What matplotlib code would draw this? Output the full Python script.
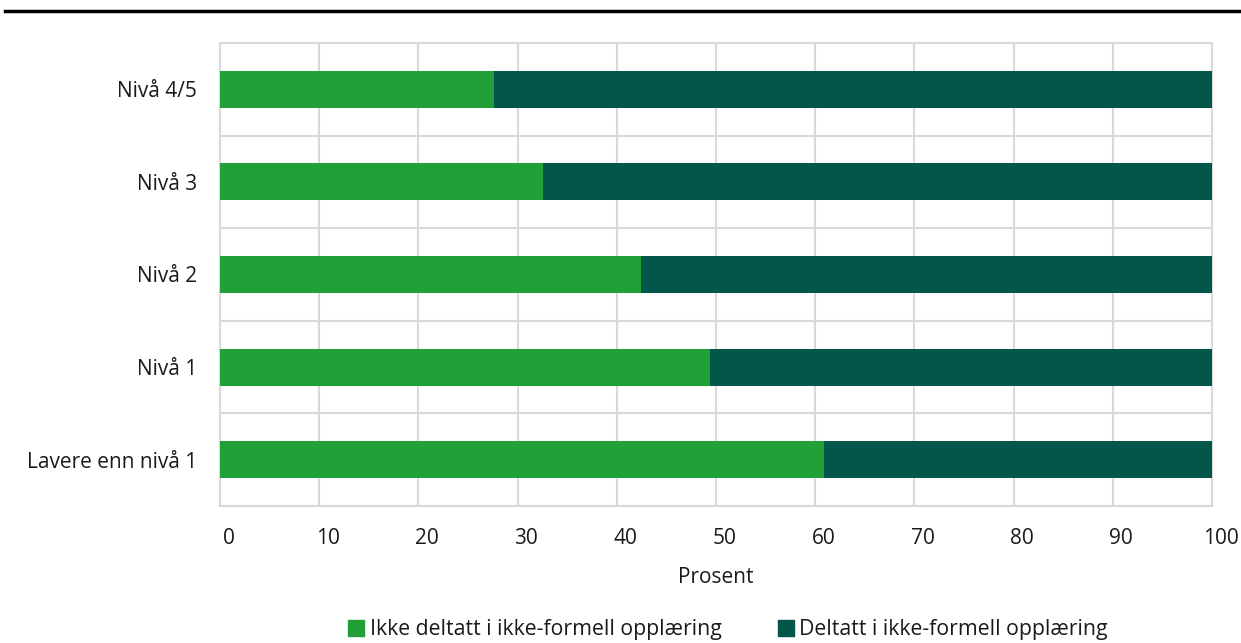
import matplotlib.pyplot as plt
import matplotlib.transforms as mtransforms
from matplotlib.patches import Patch
from matplotlib.lines import Line2D

plt.rcParams['font.family'] = ['Open Sans', 'DejaVu Sans']

categories = ['Lavere enn nivå 1', 'Nivå 1', 'Nivå 2', 'Nivå 3', 'Nivå 4/5']
ikke_deltatt = [60.9, 49.4, 42.4, 32.6, 27.6]
deltatt = [100 - v for v in ikke_deltatt]
series_labels = ['Ikke deltatt i ikke-formell opplæring', 'Deltatt i ikke-formell opplæring']
colors = ['#21a038', '#02564a']

fig = plt.figure(figsize=(12.41, 6.43), dpi=100)
ax = fig.add_axes([220 / 1241, 1 - 506 / 643, 992 / 1241, 463 / 643])

y = range(len(categories))
ax.barh(y, ikke_deltatt, height=0.4, color=colors[0], zorder=3)
ax.barh(y, deltatt, left=ikke_deltatt, height=0.4, color=colors[1], zorder=3)

ax.set_xlim(0, 100)
ax.set_ylim(-0.5, len(categories) - 0.5)
ax.set_xticks(range(0, 101, 10))
ax.set_yticks(list(y))
ax.set_yticklabels(categories)
ax.set_yticks([i - 0.5 for i in range(len(categories) + 1)], minor=True)
ax.tick_params(axis='both', which='both', length=0, labelsize=15, colors='#1a1a1a')
ax.tick_params(axis='x', pad=16)
ax.tick_params(axis='y', pad=16.5)
ax.grid(axis='x', which='major', color='#d9d9d9', lw=1.5, zorder=0)
ax.grid(axis='y', which='minor', color='#d9d9d9', lw=1.5, zorder=0)
for s in ax.spines.values():
    s.set_color('#d9d9d9')
    s.set_linewidth(1.5)

# x tick labels sit a little to the right of their gridlines in the original
shift = mtransforms.ScaledTranslation(8.5 / 100, 0, fig.dpi_scale_trans)
for lbl in ax.get_xticklabels():
    lbl.set_transform(lbl.get_transform() + shift)

ax.set_xlabel('Prosent', fontsize=15, labelpad=13, color='#1a1a1a')

handles = [Patch(color=c) for c in colors]
fig.legend(handles, series_labels, loc='center', bbox_to_anchor=(728 / 1241, 1 - 630 / 643),
           ncol=2, frameon=False, fontsize=15.3, handlelength=0.75, handleheight=0.75,
           handletextpad=0.25, columnspacing=2.65, borderaxespad=0, borderpad=0,
           labelcolor='#1a1a1a')

fig.add_artist(Line2D([5 / 1241, 1], [1 - 11 / 643] * 2, color='black', lw=2.5))

fig.savefig('out.png', dpi=100)
